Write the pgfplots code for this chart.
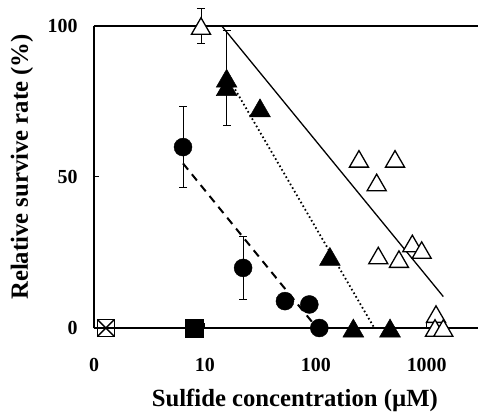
\documentclass[border=0pt]{standalone}
\usepackage{fontspec}
\setmainfont{Liberation Serif}
\usepackage{pgfplots}
\pgfplotsset{compat=1.18}
\begin{document}
\begin{tikzpicture}
\begin{axis}[
 name=ax, scale only axis, width=384bp, height=302bp,
 xmode=log, xmin=1, xmax=2901, ymin=0, ymax=100,
 axis lines=left, axis line style={-, line width=1.8bp, black},
 xtick={1,10,100,1000}, xticklabels={0,10,100,1000},
 xminorticks=false,
 ytick={0,50,100},
 tick align=inside, major tick length=5bp, tick style={line width=1bp, black},
 ticklabel style={font=\fontsize{20}{22}\selectfont\bfseries},
 /pgf/number format/assume math mode=true,
 yticklabel style={xshift=-13bp},
 xticklabel style={yshift=-27bp},
 xlabel={Sulfide concentration (µM)},
 ylabel={Relative survive rate (\%)},
 label style={font=\fontsize{24.8}{27}\selectfont\bfseries},
 xlabel style={at={(axis description cs:0.523,-0.2384)}, anchor=center},
 ylabel style={at={(axis description cs:-0.1875,0.533)}, anchor=center},
 clip=false,
]
\draw[line width=1.8bp, black] (rel axis cs:0,1) -- (rel axis cs:1,1);
% regression lines
\addplot[black, line width=1.3bp] coordinates {(14.2,100) (1412,10.4)};
\addplot[black, line width=1.8bp, dash pattern=on 1.6bp off 2.6bp] coordinates {(15.7,83.8) (337,0)};
\addplot[black, line width=2bp, dash pattern=on 8bp off 6bp] coordinates {(6.35,54.5) (102.5,0)};
% error bars
\addplot[only marks, mark=none, black, error bars/.cd, y dir=both, y explicit,
  error bar style={line width=0.9bp, black},
  error mark options={rotate=90, mark size=4bp, line width=0.9bp, black}]
  coordinates {(6.35,59.9) +- (0,13.4) (22.1,19.9) +- (0,10.4) (15.7,82.8) +- (0,15.6) (9.22,100) +- (0,5.7)};
% open triangles
\addplot[only marks, mark=triangle*, mark size=11bp, mark options={fill=white, draw=black, line width=1.3bp, yshift=-2.75bp}]
  coordinates {(9.22,100) (245,56) (518,56) (354,48.2) (366,24) (562,22.8) (742,28) (901,25.8) (1213,4.6) (1188,0) (1412,0)};
% filled triangles
\addplot[only marks, mark=triangle*, mark size=12bp, mark options={fill=black, draw=black, line width=0.5bp, yshift=-3bp}]
  coordinates {(15.7,82.7) (15.7,79.9) (31.4,72.9) (134,23.7) (218,0) (467,0)};
% circles
\addplot[only marks, mark=*, mark size=9bp, mark options={fill=black, draw=black}]
  coordinates {(6.35,59.9) (22.1,19.9) (52.7,8.9) (87.4,7.8) (107.6,0)};
% square
\addplot[only marks, mark=square*, mark size=9bp, mark options={fill=black, draw=black}] coordinates {(7.95,0)};
% crossed square
\addplot[only marks, mark=square, mark size=8.5bp, mark options={line width=1.5bp, draw=black}] coordinates {(1.28,0)};
\addplot[only marks, mark=x, mark size=12bp, mark options={line width=1.5bp, draw=black}] coordinates {(1.28,0)};
\end{axis}
\pgfresetboundingbox
\path ([shift={(-94bp,-84bp)}]ax.south west) rectangle ([shift={(0bp,26bp)}]ax.north east);
\end{tikzpicture}
\end{document}
